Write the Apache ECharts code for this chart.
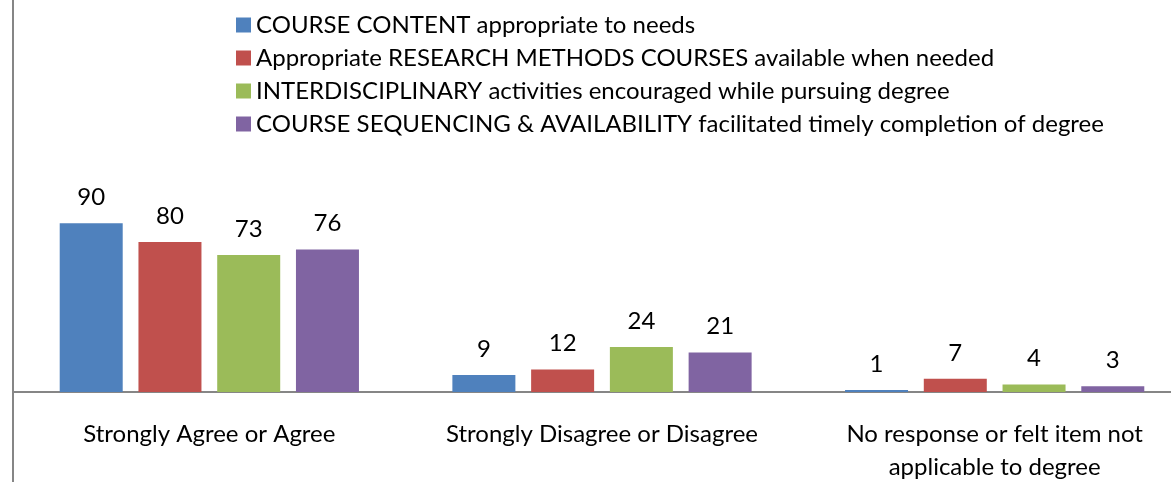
<!DOCTYPE html>
<html>
<head>
<meta charset="utf-8">
<script src="https://cdn.jsdelivr.net/npm/echarts@6/dist/echarts.min.js"></script>
<style>
  html, body { margin: 0; padding: 0; background: #fff; }
  #chart { width: 1171px; height: 482px; }
</style>
</head>
<body>
<div id="chart"></div>
<script>
// categories along the bottom
const categories = [
  'Strongly Agree or Agree',
  'Strongly Disagree or Disagree',
  'No response or felt item not\napplicable to degree'
]

// one array per series (percent)
const courseContent = [90, 9, 1]
const researchMethods = [80, 12, 7]
const interdisciplinary = [73, 24, 4]
const sequencing = [76, 21, 3]

const seriesNames = [
  'COURSE CONTENT appropriate to needs',
  'Appropriate RESEARCH METHODS COURSES available when needed',
  'INTERDISCIPLINARY activities encouraged while pursuing degree',
  'COURSE SEQUENCING & AVAILABILITY facilitated timely completion of degree'
]
const seriesData = [courseContent, researchMethods, interdisciplinary, sequencing]
const colors = ['#4F81BD', '#C0504D', '#9BBB59', '#8064A2']

const font = 'Lato, "Open Sans", sans-serif'
const axisGray = '#868686'

const myChart = echarts.init(document.getElementById('chart'))

const option = {
  animation: false,
  color: colors,
  textStyle: { fontFamily: font },
  legend: {
    orient: 'vertical',
    left: 236,
    top: 13,
    padding: 0,
    icon: 'rect',
    itemWidth: 15,
    itemHeight: 15,
    itemGap: 9,
    itemStyle: { borderWidth: 0 },
    textStyle: {
      fontFamily: font,
      fontSize: 24,
      lineHeight: 23,
      color: '#000'
    },
    data: seriesNames
  },
  grid: [
    // main plot
    { left: 13, right: -20, top: 0, bottom: 90, outerBoundsMode: 'none' },
    // strip under the category axis, only carries the left border down
    { left: 13, right: -20, bottom: 0, height: 90, outerBoundsMode: 'none' }
  ],
  xAxis: [
    {
      type: 'category',
      gridIndex: 0,
      data: categories,
      axisLine: { lineStyle: { color: axisGray, width: 2 } },
      axisTick: { show: false },
      axisLabel: {
        color: '#000',
        fontFamily: font,
        fontSize: 24,
        lineHeight: 33,
        margin: 26,
        interval: 0
      }
    },
    { type: 'category', gridIndex: 1, data: categories, show: false }
  ],
  yAxis: [
    {
      type: 'value',
      gridIndex: 0,
      min: 0,
      max: 209,
      axisLine: { show: true, lineStyle: { color: axisGray, width: 2 } },
      axisTick: { show: false },
      axisLabel: { show: false },
      splitLine: { show: false }
    },
    {
      type: 'value',
      gridIndex: 1,
      axisLine: { show: true, lineStyle: { color: axisGray, width: 2 } },
      axisTick: { show: false },
      axisLabel: { show: false },
      splitLine: { show: false }
    }
  ],
  series: seriesNames.map((name, i) => ({
    name: name,
    type: 'bar',
    data: seriesData[i],
    barWidth: 63,
    barGap: '25%',
    label: {
      show: true,
      position: 'top',
      distance: 14,
      color: '#000',
      fontFamily: font,
      fontSize: 24
    }
  }))
}

myChart.setOption(option)
window.addEventListener('resize', () => myChart.resize())
</script>
</body>
</html>
